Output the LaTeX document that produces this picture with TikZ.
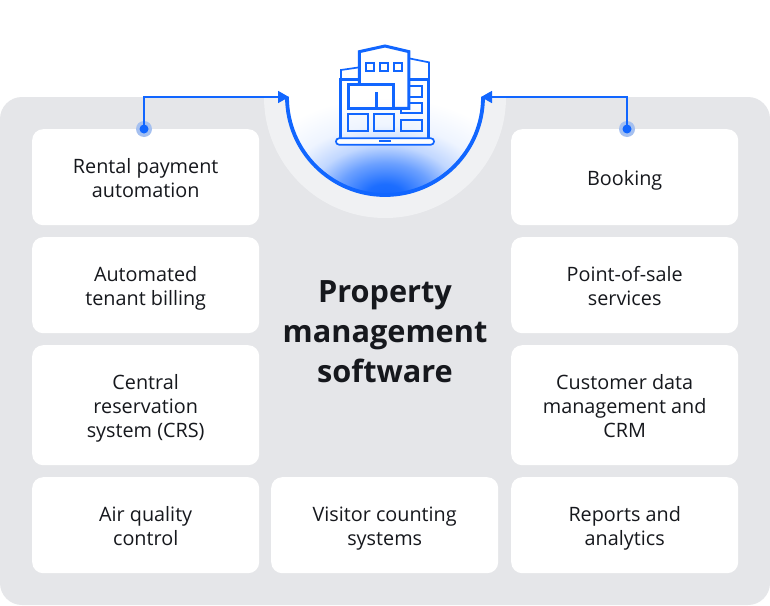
\documentclass[tikz,border=0pt]{standalone}
\usepackage{fontspec}
\setmainfont{Open Sans}
\usetikzlibrary{arrows.meta}
\definecolor{panel}{HTML}{E5E6E9}
\definecolor{ring}{HTML}{F0F1F3}
\definecolor{blu}{HTML}{1166FF}
\definecolor{ink}{HTML}{16181D}
\newcommand\lntop{\rule{0pt}{21.5pt}}
\newcommand\lnbot{\rule[-5pt]{0pt}{5pt}}
\tikzset{
  card/.style={fill=white,rounded corners=11pt,minimum width=227pt,anchor=north west,inner sep=0pt,align=center,text=ink,font=\fontsize{19.8}{24}\selectfont},
  dotn/.style={circle,fill=blu,inner sep=0pt,minimum size=9pt},
  halo/.style={circle,fill=blu!30!panel,inner sep=0pt,minimum size=16pt},
  link/.style={draw=blu,line width=1.6pt,-{Triangle[length=11pt,width=12pt]}},
  ic/.style={draw=blu,line width=1.7pt,line join=miter},
  icb/.style={draw=blu,line width=3pt,line join=miter}
}
\pgfdeclareradialshading{glow}{\pgfpoint{0bp}{0bp}}{
  color(0bp)=(blu);
  color(2.5bp)=(blu!95!white);
  color(6.25bp)=(blu!62!white);
  color(9.4bp)=(blu!26!white);
  color(13bp)=(blu!7!white);
  color(18bp)=(white);
  color(50bp)=(white)
}
\begin{document}
\begin{tikzpicture}[x=1pt,y=-1pt]
\useasboundingbox (0,0) rectangle (770,605);
\fill[white] (0,0) rectangle (770,605);
\fill[panel,rounded corners=22pt] (0,97) rectangle (770,605);
\fill[ring] (264,97) arc[start angle=180,end angle=0,radius=121] -- cycle;
\fill[white] (287,97) arc[start angle=180,end angle=0,radius=98] -- cycle;
\begin{scope}
  \clip (287,97) arc[start angle=180,end angle=0,radius=98] -- cycle;
  \shade[shading=glow] (385,198) ellipse[x radius=200pt,y radius=140pt];
\end{scope}
\draw[draw=blu,line width=3.8pt] (287,97) arc[start angle=180,end angle=0,radius=98];
% icon
\begin{scope}[shift={(250,30)},x=0.3333pt,y=-0.3333pt]
  \draw[ic] (273,150) -- (273,120) -- (328,112);
  \draw[ic] (477,85) -- (537,97) -- (537,150);
  \draw[icb] (328,150) -- (273,150) -- (273,323);
  \draw[icb] (477,150) -- (537,150) -- (537,323);
  \draw[icb] (328,165) -- (328,65) -- (405,48) -- (477,65) -- (477,235) -- (432,235);
  \draw[icb] (296,165) rectangle (432,235);
  \draw[icb] (381,187) -- (381,235);
  \draw[ic] (349,98) rectangle (373,122);
  \draw[ic] (391,98) rectangle (415,122);
  \draw[ic] (433,98) rectangle (457,122);
  \draw[ic] (477,168) -- (517,168) -- (517,200) -- (477,200);
  \draw[ic] (477,220) -- (517,220) -- (517,250) -- (452,250) -- (452,237);
  \draw[ic] (452,270) rectangle (517,303);
  \draw[ic] (295,252) rectangle (355,303);
  \draw[ic] (372,252) rectangle (433,303);
  \draw[ic,fill=white,rounded corners=3pt] (258,325) rectangle (552,344);
  \draw[ic] (387,333) -- (423,333);
\end{scope}
% cards
\node[card,minimum height=96pt] (c1) at (32,129) {\lntop Rental payment\\automation\lnbot};
\node[card,minimum height=96pt] (c2) at (32,237) {\lntop Automated\\tenant billing\lnbot};
\node[card,minimum height=120pt] (c3) at (32,345) {\lntop Central\\reservation\\system (CRS)\lnbot};
\node[card,minimum height=96pt] (c4) at (32,477) {\lntop Air quality\\control\lnbot};
\node[card,minimum height=96pt] (c5) at (271,477) {\lntop Visitor counting\\systems\lnbot};
\node[card,minimum height=96pt] (c6) at (511,129) {\lntop Booking\lnbot};
\node[card,minimum height=96pt] (c7) at (511,237) {\lntop Point-of-sale\\services\lnbot};
\node[card,minimum height=120pt] (c8) at (511,345) {\lntop Customer data\\management and\\CRM\lnbot};
\node[card,minimum height=96pt] (c9) at (511,477) {\lntop Reports and\\analytics\lnbot};
\node[align=center,text=ink,font=\fontsize{30.7}{40}\selectfont\bfseries] (title) at (385,331.5) {Property\\management\\software};
% connectors
\node[halo] (hl) at (144,129) {};
\node[halo] (hr) at (627,129) {};
\node[dotn] (dl) at (144,129) {};
\node[dotn] (dr) at (627,129) {};
\coordinate (al) at (289,97);
\coordinate (ar) at (481,97);
\draw[link] (dl.center) |- (al);
\draw[link] (dr.center) |- (ar);
\end{tikzpicture}
\end{document}
